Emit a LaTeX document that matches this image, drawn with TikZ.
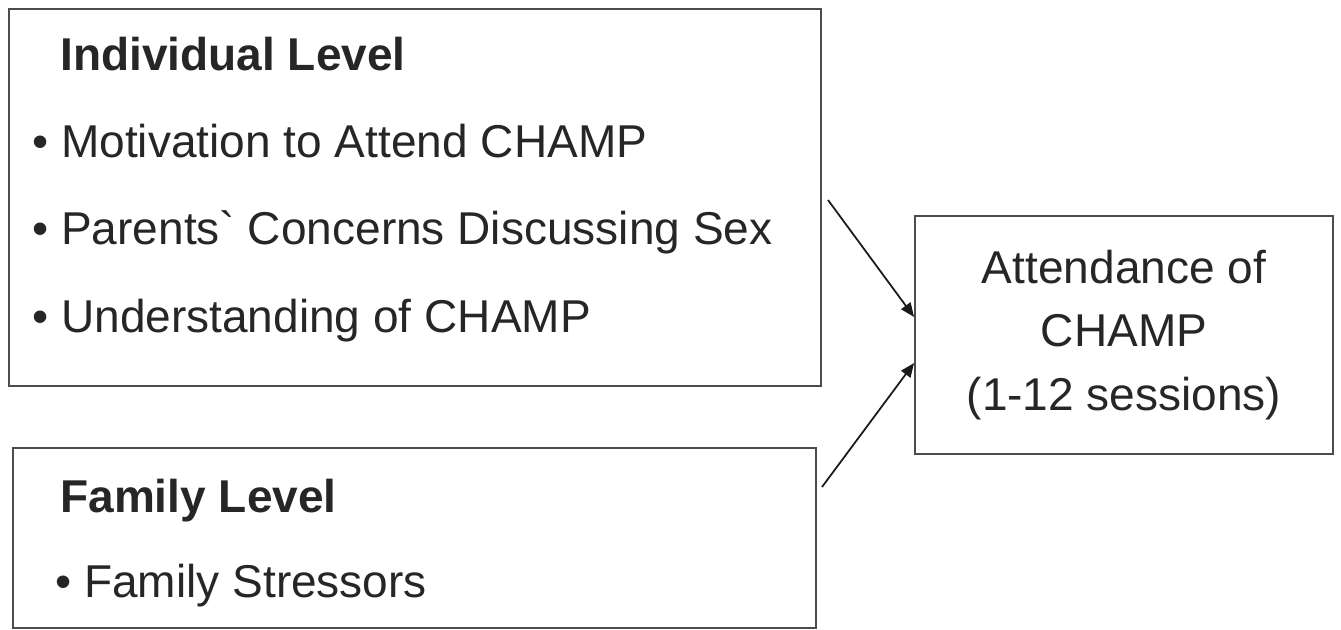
\documentclass[tikz,border=0pt]{standalone}
\usepackage{fontspec}
\setmainfont{Liberation Sans}[Ligatures=TeXOff]
\usetikzlibrary{positioning,arrows.meta,calc}

\begin{document}
\begin{tikzpicture}[x=0.02cm, y=-0.02cm, every node/.style={text=black!85},
    box/.style = {draw=black!70, line width=1.1pt, rectangle, anchor=north west, inner sep=0pt},
    item/.style = {anchor=base west, inner sep=0pt, font=\fontsize{26.2}{31}\selectfont},
    head/.style = {item, font=\fontsize{26.2}{31}\selectfont\bfseries},
    link/.style = {-{Triangle[length=8pt,width=6.5pt]}, line width=1pt, black!90}]
        \useasboundingbox (0,0) rectangle (1341,629);

        % boxes
        \node[box, minimum width=16.24cm, minimum height=7.54cm] (indiv) at (8,8) {};
        \node[box, minimum width=16.06cm, minimum height=3.6cm] (fam) at (12,447) {};
        \node[box, minimum width=8.36cm, minimum height=4.76cm, anchor=center, align=center,
              font=\fontsize{26.2}{36}\selectfont] (att) at (1124,335) {Attendance of\\CHAMP\\(1-12 sessions)};

        % individual level
        \node[head] (ihead) at (60,70) {Individual Level};
        \node[item] (i1) at (32,157) {• Motivation to Attend CHAMP};
        \node[item, below=1.76cm of i1.base west, anchor=base west] (i2) {• Parents` Concerns Discussing Sex};
        \node[item, below=1.76cm of i2.base west, anchor=base west] (i3) {• Understanding of CHAMP};

        % family level
        \node[head] (fhead) at (60,512) {Family Level};
        \node[item] (f1) at (55,597) {• Family Stressors};

        \coordinate (s1) at (828,200);
        \coordinate (s2) at (822,487);
        \draw[link] (s1) -- ($(att.west)+(0,-18)$);
        \draw[link] (s2) -- ($(att.west)+(0,28)$);

    \end{tikzpicture}
\end{document}
